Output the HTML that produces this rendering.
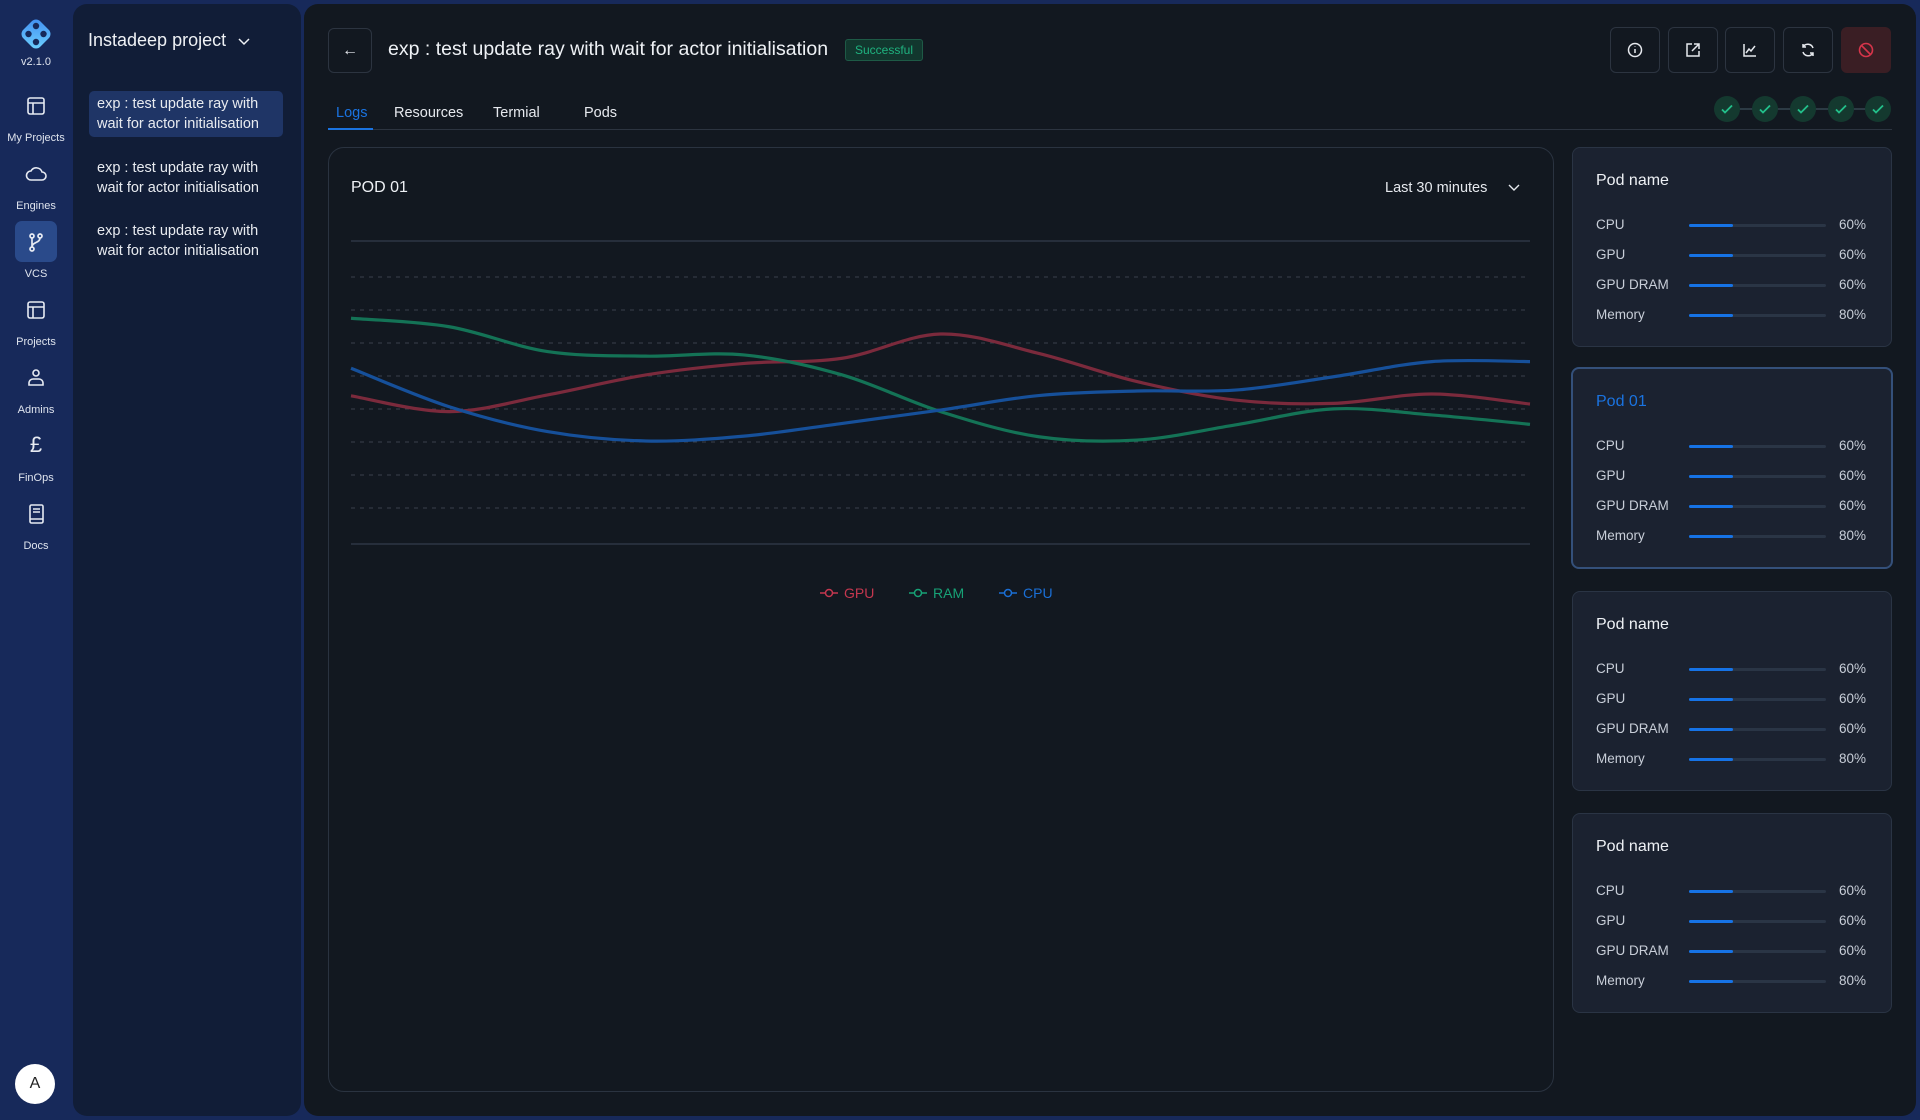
<!DOCTYPE html>
<html><head><meta charset="utf-8">
<style>
*{box-sizing:border-box;margin:0;padding:0}
body{width:1920px;height:1120px;background:#17295a;font-family:"Liberation Sans",sans-serif;overflow:hidden;position:relative;color:#e6e9ee}
.abs{position:absolute}
.nav-label{position:absolute;width:72px;left:0;text-align:center;font-size:11px;color:#dfe4ee}
.nav-icon{position:absolute;left:23px;width:26px;height:26px}
.panel2{left:73px;top:4px;width:228px;height:1112px;background:#111d37;border-radius:14px}
.main{left:304px;top:4px;width:1612px;height:1112px;background:#121820;border-radius:14px}
.exp{position:absolute;left:97px;font-size:14.5px;line-height:20px;color:#e8ebf0}
.ibtn{position:absolute;top:27px;width:50px;height:46px;border:1px solid #2c3440;border-radius:6px;background:#121820;display:flex;align-items:center;justify-content:center}
.tab{position:absolute;top:105px;font-size:14.5px;color:#e6e9ee}
.card{position:absolute;left:1572px;width:320px;height:200px;background:#1b2230;border:1px solid #2a3444;border-radius:8px}
.card .t{position:absolute;left:23px;top:24px;font-size:16px;color:#eef1f5}
.row{position:absolute;left:23px;width:280px;height:16px;font-size:13.5px;color:#c8ced8}
.row .bar{position:absolute;left:93px;top:7px;width:137px;height:3px;background:#2a3545;border-radius:2px}
.row .bar i{position:absolute;left:0;top:0;height:3px;width:44px;background:#1673e6;border-radius:2px}
.row .pc{position:absolute;left:243px;top:0}
.chk{position:absolute;top:96px;width:26px;height:26px;border-radius:50%;background:#14392f;display:flex;align-items:center;justify-content:center}
</style></head><body>
<div class="abs" style="left:0;top:0;width:72px;height:1120px">
  <svg class="abs" style="left:16px;top:14px" width="40" height="40" viewBox="0 0 40 40"><defs><linearGradient id="lg" x1="0" y1="0" x2="1" y2="1"><stop offset="0" stop-color="#3f8cf0"/><stop offset="1" stop-color="#6fd3ff"/></linearGradient></defs><rect x="8" y="8" width="24" height="24" rx="6" transform="rotate(45 20 20)" fill="url(#lg)"/><circle cx="20" cy="12" r="3.2" fill="#17295a"/><circle cx="12.5" cy="20" r="3.2" fill="#17295a"/><circle cx="27.5" cy="20" r="3.2" fill="#17295a"/><circle cx="20" cy="28" r="3.2" fill="#17295a"/></svg>
  <div class="nav-label" style="top:56px;font-size:11px">v2.1.0</div>
  <svg class="nav-icon" style="top:93px" viewBox="0 0 26 26" fill="none" stroke="#e6eaf2" stroke-width="1.6"><rect x="5" y="5" width="16" height="16" rx="2"/><path d="M5 10h16M10 10v11"/></svg>
  <div class="nav-label" style="top:132px">My Projects</div>
  <svg class="nav-icon" style="top:161px" viewBox="0 0 26 26" fill="none" stroke="#e6eaf2" stroke-width="1.6"><path d="M8 19h11a4 4 0 0 0 0-8 6 6 0 0 0-11-1 4.5 4.5 0 0 0 0 9z"/></svg>
  <div class="nav-label" style="top:200px">Engines</div>
  <div class="abs" style="left:15px;top:221px;width:42px;height:41px;background:#2a4a8a;border-radius:7px"></div>
  <svg class="nav-icon" style="top:229px" viewBox="0 0 26 26" fill="none" stroke="#e6eaf2" stroke-width="1.7"><circle cx="9" cy="7" r="2"/><circle cx="17" cy="7" r="2"/><circle cx="9" cy="20" r="2"/><path d="M9 9v9M17 9c0 5-8 4-8 9"/></svg>
  <div class="nav-label" style="top:268px">VCS</div>
  <svg class="nav-icon" style="top:297px" viewBox="0 0 26 26" fill="none" stroke="#e6eaf2" stroke-width="1.6"><rect x="5" y="5" width="16" height="16" rx="2"/><path d="M5 10h16M10 10v11"/></svg>
  <div class="nav-label" style="top:336px">Projects</div>
  <svg class="nav-icon" style="top:365px" viewBox="0 0 26 26" fill="none" stroke="#e6eaf2" stroke-width="1.6"><circle cx="13" cy="8" r="3"/><path d="M6 20v-2a4 4 0 0 1 4-4h6a4 4 0 0 1 4 4v2z"/></svg>
  <div class="nav-label" style="top:404px">Admins</div>
  <div class="abs" style="left:0;width:72px;top:432px;text-align:center;font-size:22px;color:#e6eaf2">£</div>
  <div class="nav-label" style="top:472px">FinOps</div>
  <svg class="nav-icon" style="top:501px" viewBox="0 0 26 26" fill="none" stroke="#e6eaf2" stroke-width="1.6"><rect x="7" y="4" width="13" height="18" rx="1.5"/><path d="M10 8h7M10 11h7M7 18h13"/></svg>
  <div class="nav-label" style="top:540px">Docs</div>
  <div class="abs" style="left:15px;top:1064px;width:40px;height:40px;border-radius:50%;background:#fff;color:#222;font-size:16px;display:flex;align-items:center;justify-content:center">A</div>
</div>
<div class="abs panel2">
  <div class="abs" style="left:15px;top:26px;font-size:18px;color:#eef1f5;white-space:nowrap">Instadeep project <svg width="14" height="10" viewBox="0 0 14 10" style="margin-left:6px" fill="none" stroke="#eef1f5" stroke-width="1.5"><path d="M2 3l5 5 5-5"/></svg></div>
</div>
<div class="abs" style="left:89px;top:91px;width:194px;height:46px;background:#1f3566;border-radius:5px"></div>
<div class="exp" style="top:94px">exp : test update ray with<br>wait for actor initialisation</div>
<div class="exp" style="top:158px">exp : test update ray with<br>wait for actor initialisation</div>
<div class="exp" style="top:221px">exp : test update ray with<br>wait for actor initialisation</div>
<div class="abs main"></div>
<div class="abs" style="left:328px;top:28px;width:44px;height:45px;border:1px solid #2c3440;border-radius:6px;display:flex;align-items:center;justify-content:center;color:#e6e9ee;font-size:16px">←</div>
<div class="abs" style="left:388px;top:38px;font-size:19.5px;color:#eef1f5;white-space:nowrap">exp : test update ray with wait for actor initialisation</div>
<div class="abs" style="left:845px;top:39px;width:78px;height:22px;background:#12372e;border:1px solid #1e5a46;border-radius:3px;color:#1fb27f;font-size:12px;text-align:center;line-height:20px">Successful</div>
<div class="ibtn" style="left:1610px"><svg width="18" height="18" viewBox="0 0 18 18" fill="none" stroke="#e6e9ee" stroke-width="1.5"><circle cx="9" cy="9" r="6.5"/><path d="M9 8v4M9 5.5v.5"/></svg></div>
<div class="ibtn" style="left:1668px"><svg width="18" height="18" viewBox="0 0 18 18" fill="none" stroke="#e6e9ee" stroke-width="1.5"><path d="M8 3H3v12h12v-5M10 3h5v5M15 3l-7 7"/></svg></div>
<div class="ibtn" style="left:1725px"><svg width="18" height="18" viewBox="0 0 18 18" fill="none" stroke="#e6e9ee" stroke-width="1.5"><path d="M3 3v12h12M5 12l3-4 2 2 4-5"/></svg></div>
<div class="ibtn" style="left:1783px"><svg width="18" height="18" viewBox="0 0 18 18" fill="none" stroke="#e6e9ee" stroke-width="1.5"><path d="M14 7a5.5 5.5 0 0 0-10-1M4 11a5.5 5.5 0 0 0 10 1M4 3v3h3M14 15v-3h-3"/></svg></div>
<div class="ibtn" style="left:1841px;background:#3a1e24;border-color:#3a1e24"><svg width="18" height="18" viewBox="0 0 18 18" fill="none" stroke="#d6354a" stroke-width="1.6"><circle cx="9" cy="9" r="6.5"/><path d="M4.5 4.5l9 9"/></svg></div>
<div class="tab" style="left:336px;color:#1a73e0">Logs</div>
<div class="tab" style="left:394px">Resources</div>
<div class="tab" style="left:493px">Termial</div>
<div class="tab" style="left:584px">Pods</div>
<div class="abs" style="left:328px;top:129px;width:1564px;height:1px;background:#2c3440"></div>
<div class="abs" style="left:328px;top:128px;width:45px;height:2px;background:#1a73e0"></div>
<div class="abs" style="left:1727px;top:108px;width:151px;height:2px;background:#2c3a44"></div>
<div class="chk" style="left:1714px"><svg width="14" height="14" viewBox="0 0 14 14" fill="none" stroke="#22c08a" stroke-width="1.8"><path d="M2 7.5l3 3 7-7"/></svg></div>
<div class="chk" style="left:1752px"><svg width="14" height="14" viewBox="0 0 14 14" fill="none" stroke="#22c08a" stroke-width="1.8"><path d="M2 7.5l3 3 7-7"/></svg></div>
<div class="chk" style="left:1790px"><svg width="14" height="14" viewBox="0 0 14 14" fill="none" stroke="#22c08a" stroke-width="1.8"><path d="M2 7.5l3 3 7-7"/></svg></div>
<div class="chk" style="left:1828px"><svg width="14" height="14" viewBox="0 0 14 14" fill="none" stroke="#22c08a" stroke-width="1.8"><path d="M2 7.5l3 3 7-7"/></svg></div>
<div class="chk" style="left:1865px"><svg width="14" height="14" viewBox="0 0 14 14" fill="none" stroke="#22c08a" stroke-width="1.8"><path d="M2 7.5l3 3 7-7"/></svg></div>
<div class="abs" style="left:328px;top:147px;width:1226px;height:945px;border:1px solid #2a3340;border-radius:16px"></div>
<div class="abs" style="left:351px;top:179px;font-size:16px;color:#eef1f5">POD 01</div>
<div class="abs" style="left:1385px;top:180px;font-size:14.5px;color:#e6e9ee;white-space:nowrap">Last 30 minutes <svg width="14" height="10" viewBox="0 0 14 10" style="margin-left:16px" fill="none" stroke="#e6e9ee" stroke-width="1.4"><path d="M2 3l5 5 5-5"/></svg></div>
<svg class="abs" id="chart" style="left:0;top:0" width="1920" height="620"></svg>
<div id="cards"></div>
<script>
const categories=["t0","t1","t2","t3","t4","t5","t6","t7","t8","t9","t10","t11","t12"];
const gpuValues=[48.9,43.7,49.2,55.8,59.6,61.3,69.3,62.9,53.6,47.5,46.4,49.5,46.2];
const ramValues=[74.5,71.7,63.5,62.0,62.4,55.8,43.7,35.4,34.3,39.3,44.6,42.6,39.5];
const cpuValues=[58.0,45.3,37.1,34.0,35.6,39.8,44.2,49.0,50.5,50.8,55.2,60.2,60.2];
const seriesNames=["GPU","RAM","CPU"];
const NS="http://www.w3.org/2000/svg";
const svg=document.getElementById("chart");
const X0=351,X1=1530,Y0=544,Y1=241;
function xScale(i){return X0+(X1-X0)*i/(categories.length-1);}
function yScale(v){return Y0-(Y0-Y1)*v/100;}
function mk(tag,attrs){const e=document.createElementNS(NS,tag);for(const k in attrs)e.setAttribute(k,attrs[k]);svg.appendChild(e);return e;}
let l=mk("line",{x1:X0,x2:X1,y1:Y1,y2:Y1,stroke:"#2c3644","stroke-width":1.5});


l=mk("line",{x1:X0,x2:X1,y1:Y0,y2:Y0,stroke:"#2c3644","stroke-width":1.5});


for(let i=0;i<8;i++){const y=277+i*33;const g=mk("line",{x1:X0,x2:X1,y1:y,y2:y,stroke:"#39414c","stroke-width":1,"stroke-dasharray":"4 5"});

}
function path(vals){const p=vals.map((v,i)=>[xScale(i),yScale(v)]);let d="M"+p[0][0]+","+p[0][1];
for(let i=0;i<p.length-1;i++){const p0=p[i-1]||p[i],p1=p[i],p2=p[i+1],p3=p[i+2]||p2;
const c1=[p1[0]+(p2[0]-p0[0])/6,p1[1]+(p2[1]-p0[1])/6],c2=[p2[0]-(p3[0]-p1[0])/6,p2[1]-(p3[1]-p1[1])/6];
d+=" C"+c1+" "+c2+" "+p2;}return d;}
const all=[[gpuValues,"#7b2a3c","gpu-line"],[ramValues,"#147356","ram-line"],[cpuValues,"#16509a","cpu-line"]];
all.forEach(s=>{const e=mk("path",{d:path(s[0]),fill:"none",stroke:s[1],"stroke-width":3.2});

});
const legCols=["#c5374f","#17a276","#1a6fd6"];const legX=[820,909,999];
seriesNames.forEach((n,i)=>{const x=legX[i],y=593;
const ln=mk("line",{x1:x,x2:x+18,y1:y,y2:y,stroke:legCols[i],"stroke-width":1.5});


const c=mk("circle",{cx:x+9,cy:y,r:3.5,fill:"#121820",stroke:legCols[i],"stroke-width":1.5});


const t=mk("text",{x:x+24,y:y+5,fill:legCols[i],"font-size":14,"font-family":"Liberation Sans, sans-serif"});t.textContent=n;

});
const cardTops=[147,367,591,813];const cardTitles=["Pod name","Pod 01","Pod name","Pod name"];
const rowNames=["CPU","GPU","GPU DRAM","Memory"];const rowVals=["60%","60%","60%","80%"];
const cc=document.getElementById("cards");
cardTops.forEach((t,ci)=>{const c=document.createElement("div");c.className="card";c.style.top=t+"px";
if(ci===1){c.style.border="2px solid #34507a";c.style.height="202px";c.style.left="1571px";c.style.width="322px";}


let h='<div class="t" style="'+(ci===1?'color:#1a73e0':'')+'">'+cardTitles[ci]+'</div>';
rowNames.forEach((r,ri)=>{h+='<div class="row" style="top:'+(69+ri*30)+'px">'+r+'<div class="bar"><i></i></div><span class="pc">'+rowVals[ri]+'</span></div>';});
c.innerHTML=h;cc.appendChild(c);});
</script>
</body></html>
